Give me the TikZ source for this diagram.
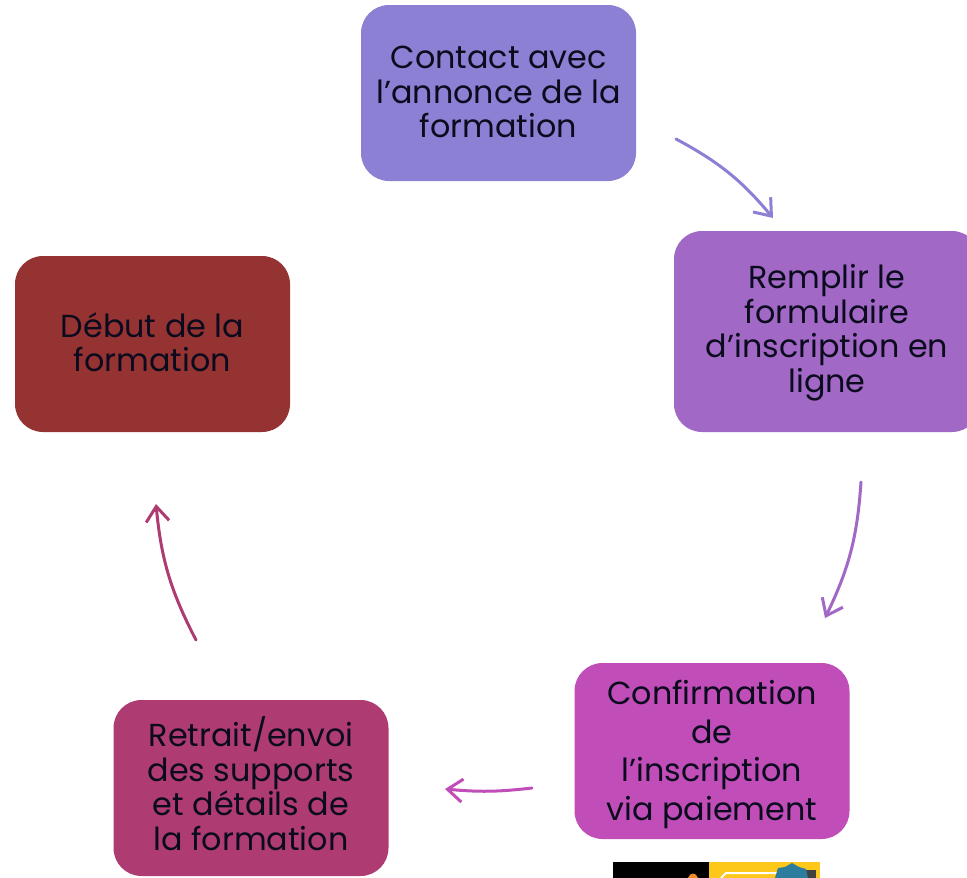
\documentclass[tikz,border=0pt]{standalone}
\usepackage{fontspec}
\usepackage{tikz}
\usetikzlibrary{arrows.meta}
\setmainfont{Poppins}

\definecolor{stepA}{HTML}{8B80D3}
\definecolor{stepB}{HTML}{A268C6}
\definecolor{stepC}{HTML}{C04DB8}
\definecolor{stepD}{HTML}{AE3B72}
\definecolor{stepE}{HTML}{953232}
\definecolor{inkText}{HTML}{0B0B1E}
\definecolor{stripYellow}{HTML}{FDC81A}
\definecolor{stripBlue}{HTML}{2C7C9E}
\definecolor{stripOrange}{HTML}{F08A24}

\newcommand{\lowdown}[1]{\rule[-#1pt]{0pt}{#1pt}}
\newcommand{\highup}[1]{\rule{0pt}{#1pt}}

\tikzset{
    stepbox/.style={fill=#1,rounded corners=28pt,minimum width=275pt,minimum height=176pt,
        align=center,text=inkText,font=\fontsize{31.8}{34.5}\selectfont,inner sep=0pt},
    flow/.style={draw=#1,line width=3pt,line cap=round,
        -{Straight Barb[length=15pt,width=23pt,line width=3pt]}}
}

\begin{document}
\begin{tikzpicture}[x=1pt,y=-1pt]
    \path[use as bounding box,clip] (0,0) rectangle (967,878);

    % boxes
    \node[stepbox=stepA] (contact) at (498.5,93) {Contact avec\\l’annonce de la\\formation\lowdown{2}};
    \node[stepbox=stepB,minimum width=306pt,minimum height=201pt] (form) at (827,331.5) {\highup{27}Remplir le\\formulaire\\d’inscription en\\ligne};
    \node[stepbox=stepC,font=\fontsize{31.8}{38.5}\selectfont] (pay) at (712,751) {\highup{31}Confirmation\\de\\l’inscription\\via paiement};
    \node[stepbox=stepD] (kit) at (251,788) {Retrait/envoi\\des supports\\et détails de\\la formation\lowdown{9}};
    \node[stepbox=stepE] (start) at (152.5,344) {Début de la\\formation\lowdown{4}};

    % arrow ends
    \coordinate (contactOut) at (676,139);
    \coordinate (formIn) at (773,218);
    \coordinate (formOut) at (861,482);
    \coordinate (payIn) at (825,618);
    \coordinate (payOut) at (532,788);
    \coordinate (kitIn) at (445,789);
    \coordinate (kitOut) at (196,640);
    \coordinate (startIn) at (156,504);

    \draw[flow=stepA] (contactOut) to[bend left=11] (formIn);
    \draw[flow=stepB] (formOut) to[bend left=11] (payIn);
    \draw[flow=stepC] (payOut) to[bend left=6] (kitIn);
    \draw[flow=stepD] (kitOut) to[bend left=11] (startIn);

    % image strip at the bottom
    \fill[black] (613,862) rectangle (709,878);
    \fill[stripYellow] (709,862) rectangle (820,878);
    \fill[stripOrange] (688,878) .. controls (690,872) and (696,872) .. (698,878);
    \draw[white,line width=2pt] (721,878) -- (726,873) -- (780,873);
    \fill[black!75] (800,870) rectangle (816,878);
    \fill[stripBlue] (775,878) -- (778,868) -- (785,867) -- (792,863) -- (799,867) -- (806,869) -- (808,878) -- cycle;
\end{tikzpicture}
\end{document}
